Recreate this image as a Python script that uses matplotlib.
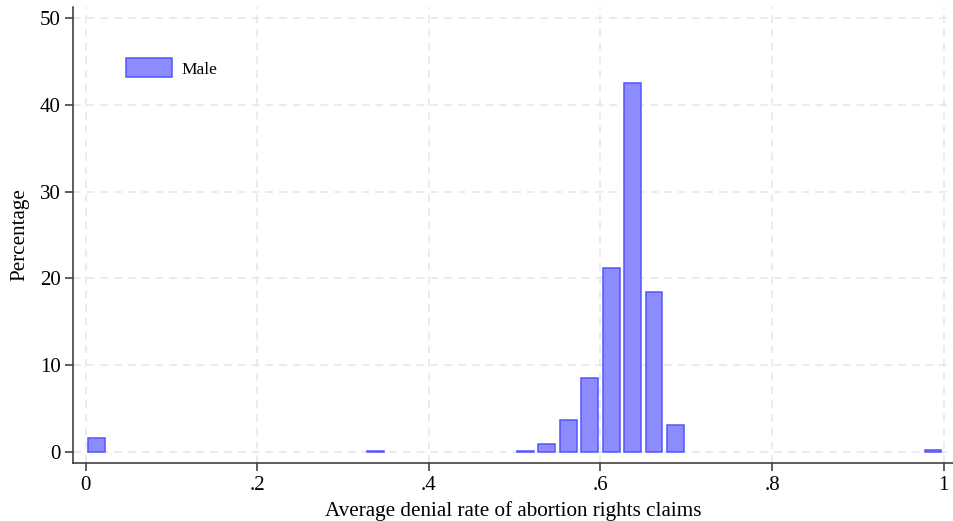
import matplotlib.pyplot as plt

# bin centres (width .025) and percentage in each bin
bin_centers = [0.0125, 0.3375, 0.5125, 0.5375, 0.5625, 0.5875, 0.6125, 0.6375, 0.6625, 0.6875, 0.9875]
percentages = [1.55, 0.1, 0.15, 0.9, 3.7, 8.5, 21.15, 42.5, 18.4, 3.05, 0.2]

x_ticks = [0, 0.2, 0.4, 0.6, 0.8, 1.0]
x_tick_labels = ["0", ".2", ".4", ".6", ".8", "1"]
y_ticks = [0, 10, 20, 30, 40, 50]

plt.rcParams['font.family'] = ['Liberation Serif', 'DejaVu Serif']

fig = plt.figure(figsize=(9.54, 5.21), dpi=100)
ax = fig.add_axes([0.0765, 0.111, 0.9235, 0.876])

ax.bar(bin_centers, percentages, width=0.0195, color='#8c8cff',
       edgecolor='#5555ff', linewidth=1.1, label='Male', zorder=3)

ax.set_xlim(-0.0146, 1.012)
ax.set_ylim(-1.3, 51.3)
ax.set_xticks(x_ticks)
ax.set_xticklabels(x_tick_labels)
ax.set_yticks(y_ticks)

ax.grid(True, color='#e6e6e6', linestyle=(0, (5, 4)), linewidth=1.1, zorder=0)
for side in ['top', 'right']:
    ax.spines[side].set_visible(False)
for side in ['left', 'bottom']:
    ax.spines[side].set_color('#333333')
    ax.spines[side].set_linewidth(1.1)
ax.tick_params(direction='out', length=6, width=1.1, color='#333333',
               labelsize=15, pad=3)

ax.set_xlabel('Average denial rate of abortion rights claims', fontsize=15.2, labelpad=4.5)
ax.set_ylabel('Percentage', fontsize=15.2, labelpad=7)

ax.legend(loc='upper left', bbox_to_anchor=(0.043, 0.922), frameon=False,
          fontsize=12.5, handlelength=2.6, handleheight=1.35, handletextpad=0.55)

fig.savefig('out.png', dpi=100)
